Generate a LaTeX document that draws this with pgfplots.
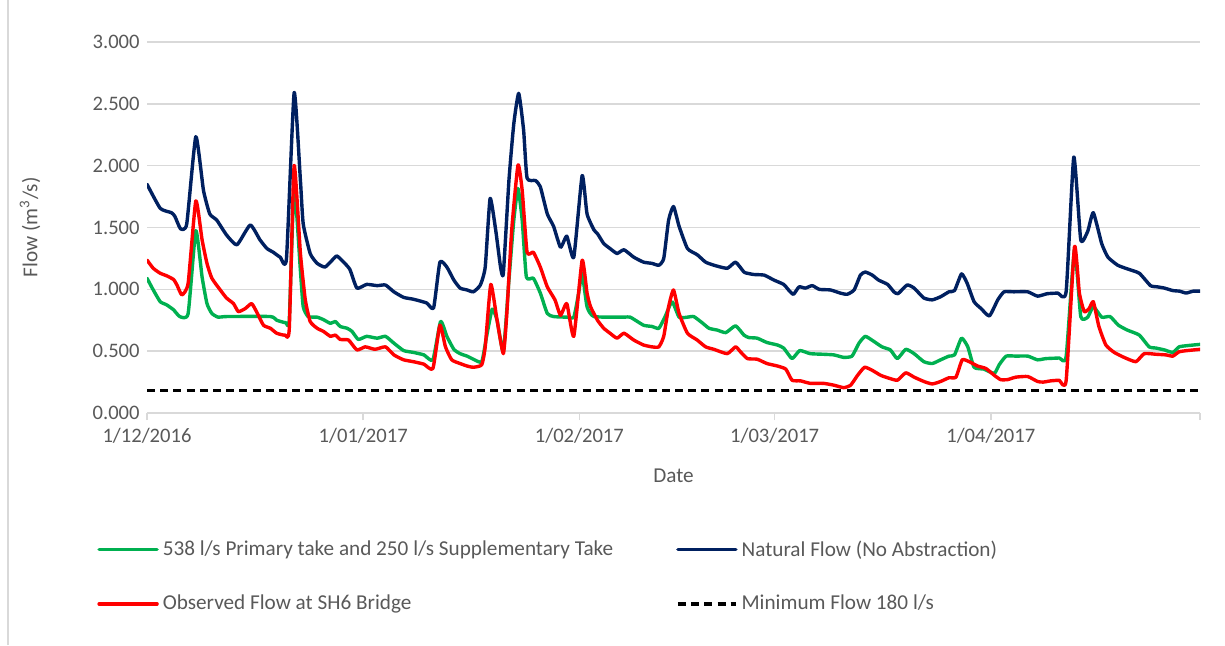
\documentclass[border=0pt]{standalone}
\usepackage{fontspec}
\setmainfont{Carlito}
\usepackage{pgfplots}
\pgfplotsset{compat=1.18}
\definecolor{ngreen}{HTML}{00B050}
\definecolor{nnavy}{HTML}{002060}
\definecolor{nred}{HTML}{FF0000}
\definecolor{txt}{HTML}{595959}
\definecolor{gridc}{HTML}{D9D9D9}
\begin{document}
\begin{tikzpicture}[x=1pt,y=1pt]
\path[use as bounding box] (0,0) rectangle (612.5,322.5);
\draw[gridc, line width=0.6pt] (4,0) -- (4,322.5);
\begin{axis}[
  at={(73.5pt,116pt)}, anchor=south west,
  scale only axis, width=526.5pt, height=185.5pt,
  xmin=0, xmax=151, ymin=0, ymax=3,
  axis line style={draw=none},
  ytick={0,0.5,1,1.5,2,2.5,3},
  ymajorgrids, major grid style={gridc, line width=0.8pt},
  xtick={0,31,62,90,121,151},
  xticklabels={1/12/2016,1/01/2017,1/02/2017,1/03/2017,1/04/2017,},
  xtick pos=lower, tick align=outside, major tick length=3.5pt,
  xtick style={gridc, line width=0.8pt},
  ytick style={draw=none},
  yticklabel style={anchor=east, inner sep=0pt},
  xticklabel style={anchor=north, inner sep=0pt, yshift=-4pt},
  ticklabel style={font=\fontsize{10.3}{12}\selectfont, text=txt},
  /pgf/number format/assume math mode=true,
  y tick label style={/pgf/number format/.cd, fixed, fixed zerofill, precision=3, 1000 sep={}},
  xlabel={Date}, ylabel={Flow (m\textsuperscript{3}/s)},
  label style={font=\fontsize{10.6}{12}\selectfont, text=txt},
  xlabel style={at={(axis description cs:0.5,-0.17)}, anchor=center},
  ylabel style={at={(axis description cs:-0.111,0.5)}, anchor=center},
  legend columns=2,
  legend style={at={(axis description cs:-0.0475,-0.441)}, anchor=west, draw=none, fill=none, inner sep=0pt,
    font=\fontsize{10.6}{12.5}\selectfont, text=txt, row sep=14pt, column sep=0pt},
  legend cell align=left,
  /tikz/every even column/.append style={column sep=29.5pt},
  legend image code/.code={\draw[#1] (0pt,0pt) -- (29pt,0pt);},
  every axis plot/.append style={line width=1.7pt, line join=round, line cap=round},
]
\addplot[ngreen, smooth, tension=0.3] coordinates {
(0,1.09)(0.9,0.995)(1.9,0.90)(2.8,0.875)(3.8,0.835)(4.7,0.78)(5.9,0.805)(7.0,1.475)(7.9,1.10)(8.6,0.885)
(9.3,0.805)(10.2,0.775)(11.4,0.78)(17.7,0.78)(18.6,0.75)(19.9,0.73)(20.4,0.75)(21.1,1.83)(22.0,1.15)(22.4,0.86)
(23.1,0.78)(24.4,0.775)(25.3,0.755)(26.3,0.725)(27.0,0.74)(27.7,0.70)(28.7,0.685)(29.4,0.66)(30.3,0.595)(31.5,0.62)
(33.0,0.605)(34.2,0.62)(35.4,0.565)(36.8,0.505)(38.2,0.49)(39.7,0.47)(41.0,0.43)(42.1,0.74)(43.0,0.62)(44.0,0.515)
(44.9,0.48)(45.9,0.46)(46.8,0.435)(48.0,0.415)(48.7,0.62)(49.5,0.84)(50.2,0.75)(51.1,0.50)(51.9,1.075)(52.6,1.56)
(53.2,1.815)(53.8,1.56)(54.4,1.10)(55.4,1.09)(56.4,0.97)(57.4,0.805)(58.3,0.78)(60.2,0.775)(61.2,0.775)(61.9,0.97)
(62.4,1.13)(63.1,0.86)(64.1,0.78)(68.4,0.775)(69.3,0.775)(71.2,0.71)(72.4,0.70)(73.4,0.685)(74.3,0.78)(75.3,0.90)
(76.3,0.775)(77.5,0.775)(78.4,0.78)(79.6,0.73)(80.6,0.685)(81.8,0.67)(83.0,0.65)(84.4,0.705)(85.6,0.63)(86.3,0.61)
(87.5,0.605)(88.9,0.57)(90.4,0.55)(91.3,0.525)(92.5,0.44)(93.6,0.505)(95.1,0.48)(97.0,0.475)(98.5,0.47)(99.9,0.45)
(101.1,0.46)(102.1,0.565)(103.0,0.62)(104.2,0.58)(105.4,0.535)(106.6,0.51)(107.6,0.44)(108.8,0.515)(110.0,0.48)(111.4,0.415)
(112.6,0.40)(113.8,0.43)(115.0,0.46)(115.8,0.47)(116.8,0.605)(117.7,0.535)(118.6,0.37)(120.0,0.355)(121.5,0.32)(122.2,0.39)
(123.2,0.46)(124.6,0.46)(126.3,0.46)(127.7,0.43)(128.9,0.44)(130.8,0.445)(131.8,0.455)(133.0,1.32)(133.9,0.78)(134.9,0.775)
(135.7,0.86)(136.9,0.775)(138.1,0.78)(139.3,0.71)(140.6,0.67)(142.3,0.63)(143.7,0.535)(144.7,0.525)(145.9,0.51)(147.1,0.49)
(148.0,0.535)(149.2,0.545)(151.0,0.555)
};
\addlegendentry{538 l/s Primary take and 250 l/s Supplementary Take}
\addplot[nnavy, smooth, tension=0.3] coordinates {
(0,1.85)(1.9,1.655)(3.5,1.62)(4,1.59)(4.8,1.49)(5.7,1.53)(7.0,2.235)(8.1,1.80)(9.0,1.61)(10,1.56)
(11.4,1.44)(12.9,1.36)(14.8,1.52)(16.2,1.40)(17.2,1.33)(18.1,1.30)(19.1,1.26)(20.0,1.25)(21.1,2.59)(22.0,1.88)
(22.4,1.53)(23.4,1.29)(24.4,1.21)(25.5,1.18)(26.3,1.22)(27.2,1.27)(28.2,1.22)(29.1,1.16)(30.1,1.01)(31.5,1.04)
(33.0,1.03)(34.2,1.035)(35.4,0.98)(36.8,0.935)(38.2,0.92)(40.1,0.89)(41.1,0.85)(42.0,1.22)(43.0,1.18)(44.0,1.075)
(44.9,1.01)(45.9,0.995)(46.8,0.98)(47.8,1.035)(48.5,1.18)(49.2,1.735)(50.0,1.48)(50.7,1.18)(51.1,1.13)(51.9,1.88)
(52.6,2.34)(53.3,2.585)(54.0,2.29)(54.5,1.90)(55.7,1.88)(56.4,1.83)(57.4,1.61)(58.3,1.51)(59.3,1.34)(60.2,1.43)
(61.2,1.26)(62.4,1.92)(63.1,1.61)(64.1,1.48)(64.6,1.45)(65.5,1.37)(66.4,1.33)(67.4,1.29)(68.4,1.32)(69.8,1.26)
(71.2,1.22)(72.4,1.21)(73.4,1.195)(74.1,1.25)(74.8,1.56)(75.5,1.67)(76.3,1.51)(77.5,1.33)(78.9,1.28)(80.1,1.22)
(81.3,1.195)(83.2,1.17)(84.4,1.22)(85.6,1.14)(86.1,1.13)(87.0,1.12)(88.5,1.115)(89.9,1.075)(91.3,1.04)(92.0,0.995)
(92.7,0.96)(93.5,1.02)(94.4,1.01)(95.4,1.03)(96.4,1.00)(98.0,0.995)(99.4,0.97)(100.4,0.96)(101.4,0.995)(102.3,1.115)
(103.0,1.14)(104.0,1.115)(104.9,1.075)(106.2,1.04)(107.1,0.98)(107.7,0.965)(109.0,1.035)(110.0,1.01)(111.4,0.93)(112.6,0.915)
(113.8,0.94)(115.0,0.98)(115.8,0.99)(116.8,1.125)(117.6,1.05)(118.6,0.90)(119.6,0.845)(120.8,0.785)(122.0,0.915)(122.9,0.98)
(124.3,0.98)(126.3,0.98)(127.7,0.945)(129.1,0.965)(130.6,0.97)(131.8,0.98)(132.9,2.07)(133.9,1.40)(134.9,1.47)(135.7,1.62)
(136.9,1.37)(137.8,1.26)(139.2,1.195)(140.6,1.165)(142.3,1.13)(143.9,1.03)(144.9,1.02)(145.9,1.01)(147.1,0.99)(148.1,0.985)
(149.0,0.97)(150.0,0.985)(151.0,0.985)
};
\addlegendentry{Natural Flow (No Abstraction)}
\addplot[nred, smooth, tension=0.3] coordinates {
(0,1.237)(0.9,1.17)(1.9,1.13)(2.8,1.11)(3.8,1.08)(4.3,1.035)(5.0,0.955)(5.9,1.05)(7.0,1.715)(7.9,1.40)
(8.6,1.21)(9.3,1.09)(10.5,0.995)(11.4,0.93)(12.4,0.885)(13.1,0.82)(14.1,0.845)(15.0,0.885)(15.7,0.82)(16.7,0.71)
(17.7,0.685)(18.6,0.645)(19.8,0.63)(20.4,0.68)(21.1,2.00)(22.0,1.29)(22.7,0.915)(23.4,0.74)(24.4,0.685)(25.3,0.66)
(26.3,0.62)(27.0,0.63)(27.7,0.595)(28.9,0.59)(30.1,0.51)(31.3,0.535)(32.7,0.515)(34.2,0.535)(35.4,0.47)(36.8,0.43)
(38.2,0.415)(39.7,0.395)(41.0,0.36)(42.0,0.71)(42.8,0.535)(43.7,0.43)(44.9,0.40)(45.9,0.38)(46.8,0.37)(48.0,0.39)
(48.5,0.535)(49.3,1.04)(50.2,0.75)(51.1,0.48)(51.6,0.805)(52.3,1.48)(53.2,2.005)(53.8,1.80)(54.5,1.30)(55.4,1.30)
(56.4,1.18)(57.4,1.02)(58.5,0.915)(59.3,0.79)(60.2,0.885)(61.2,0.62)(62.4,1.235)(63.1,0.97)(63.6,0.86)(64.6,0.75)
(65.5,0.685)(66.4,0.645)(67.4,0.605)(68.4,0.645)(69.8,0.59)(71.2,0.55)(72.4,0.535)(73.4,0.535)(74.1,0.62)(74.8,0.86)
(75.5,0.995)(76.3,0.805)(77.5,0.645)(78.9,0.59)(80.1,0.535)(81.3,0.515)(83.2,0.48)(84.4,0.535)(85.1,0.495)(86.1,0.44)
(87.5,0.435)(88.9,0.40)(90.4,0.38)(91.6,0.355)(92.5,0.265)(93.7,0.26)(95.1,0.24)(97.0,0.24)(98.5,0.225)(99.9,0.205)
(100.9,0.225)(101.9,0.305)(102.9,0.37)(104.0,0.345)(105.2,0.305)(106.2,0.285)(107.6,0.265)(108.8,0.325)(110.0,0.29)(111.4,0.255)
(112.6,0.235)(113.8,0.255)(115.0,0.285)(116.0,0.29)(116.9,0.43)(117.9,0.415)(119.1,0.38)(120.3,0.36)(121.5,0.305)(122.4,0.27)
(123.4,0.27)(124.6,0.29)(126.3,0.295)(127.7,0.255)(128.5,0.25)(129.6,0.26)(130.8,0.265)(131.8,0.26)(133.0,1.345)(133.7,0.97)
(134.4,0.82)(135.1,0.845)(135.7,0.90)(136.5,0.70)(137.5,0.55)(138.7,0.49)(140.1,0.45)(141.8,0.415)(143.0,0.48)(144.7,0.475)
(146.1,0.47)(147.1,0.46)(148.0,0.495)(149.2,0.505)(151.0,0.515)
};
\addlegendentry{Observed Flow at SH6 Bridge}
\addplot[black, dash pattern=on 4pt off 2.6pt, line cap=butt] coordinates {(0,0.18)(151,0.18)};
\addlegendentry{Minimum Flow 180 l/s}
\end{axis}
\end{tikzpicture}
\end{document}
